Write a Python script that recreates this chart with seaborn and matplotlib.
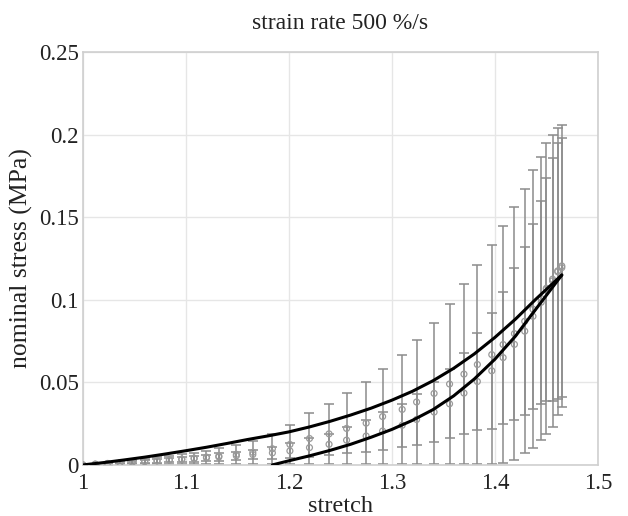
import numpy as np
import pandas as pd
import matplotlib
matplotlib.use("Agg")
import matplotlib.pyplot as plt
import seaborn as sns

# Measured stretch levels (shared by both specimen groups)
stretch = [1.000, 1.012, 1.024, 1.036, 1.048, 1.060, 1.072, 1.084, 1.096, 1.108,
           1.120, 1.132, 1.149, 1.165, 1.184, 1.201, 1.220, 1.239, 1.256, 1.275,
           1.291, 1.310, 1.324, 1.341, 1.356, 1.370, 1.383, 1.397, 1.408, 1.419,
           1.429, 1.437, 1.445, 1.450, 1.456, 1.461, 1.465]

# Group A: mean nominal stress and standard deviation (MPa)
mean_a = [0.0000, 0.0004, 0.0008, 0.0012, 0.0016, 0.0020, 0.0025, 0.0030, 0.0035, 0.0041,
          0.0047, 0.0054, 0.0064, 0.0076, 0.0098, 0.0124, 0.0160, 0.0188, 0.0221, 0.0253,
          0.0293, 0.0336, 0.0381, 0.0433, 0.0490, 0.0550, 0.0608, 0.0668, 0.0729, 0.0795,
          0.0870, 0.0943, 0.1008, 0.1070, 0.1115, 0.1170, 0.1205]
sd_a = [0.0000, 0.0003, 0.0006, 0.0009, 0.0012, 0.0016, 0.0020, 0.0024, 0.0029, 0.0034,
        0.0040, 0.0046, 0.0056, 0.0070, 0.0092, 0.0116, 0.0155, 0.0182, 0.0215, 0.0247,
        0.0287, 0.0330, 0.0376, 0.0427, 0.0485, 0.0545, 0.0602, 0.0662, 0.0719, 0.0765,
        0.0800, 0.0843, 0.0858, 0.0880, 0.0885, 0.0870, 0.0855]

# Group B: mean nominal stress and standard deviation (MPa)
mean_b = [0.0000, 0.0005, 0.0009, 0.0013, 0.0017, 0.0021, 0.0025, 0.0029, 0.0033, 0.0038,
          0.0043, 0.0048, 0.0055, 0.0063, 0.0073, 0.0085, 0.0105, 0.0125, 0.0150, 0.0175,
          0.0205, 0.0240, 0.0275, 0.0320, 0.0370, 0.0435, 0.0505, 0.0570, 0.0650, 0.0730,
          0.0810, 0.0900, 0.0985, 0.1065, 0.1125, 0.1175, 0.1195]
sd_b = [0.0000, 0.0002, 0.0004, 0.0006, 0.0008, 0.0010, 0.0012, 0.0014, 0.0016, 0.0018,
        0.0020, 0.0023, 0.0026, 0.0030, 0.0035, 0.0045, 0.0055, 0.0065, 0.0080, 0.0095,
        0.0115, 0.0130, 0.0155, 0.0180, 0.0210, 0.0245, 0.0295, 0.0350, 0.0400, 0.0460,
        0.0510, 0.0560, 0.0615, 0.0675, 0.0735, 0.0775, 0.0785]

# Model curves
model1_stretch = [1.00, 1.02, 1.04, 1.06, 1.08, 1.10, 1.12, 1.14, 1.16, 1.18, 1.20, 1.22,
                  1.24, 1.26, 1.28, 1.30, 1.32, 1.34, 1.36, 1.38, 1.40, 1.42, 1.44, 1.465]
model1_stress = [0.0000, 0.0014, 0.0030, 0.0047, 0.0066, 0.0086, 0.0107, 0.0130, 0.0154,
                 0.0176, 0.0200, 0.0230, 0.0264, 0.0302, 0.0344, 0.0392, 0.0446, 0.0510,
                 0.0585, 0.0672, 0.0772, 0.0883, 0.1005, 0.1150]
model2_stretch = [1.184, 1.20, 1.22, 1.24, 1.26, 1.28, 1.30, 1.32, 1.34, 1.36, 1.38,
                  1.40, 1.42, 1.44, 1.465]
model2_stress = [0.0000, 0.0025, 0.0055, 0.0088, 0.0125, 0.0168, 0.0215, 0.0270, 0.0335,
                 0.0418, 0.0520, 0.0640, 0.0780, 0.0945, 0.1150]

x_ticks = [1.0, 1.1, 1.2, 1.3, 1.4, 1.5]
x_tick_labels = ["1", "1.1", "1.2", "1.3", "1.4", "1.5"]
y_ticks = [0.0, 0.05, 0.10, 0.15, 0.20, 0.25]
y_tick_labels = ["0", "0.05", "0.1", "0.15", "0.2", "0.25"]

sns.set_theme(style="whitegrid")
plt.rcParams["font.family"] = ["Liberation Serif", "DejaVu Serif"]

fig = plt.figure(figsize=(6.28, 5.16), dpi=100)
ax = fig.add_axes([0.132, 0.099, 0.820, 0.800])
ax.set_facecolor("white")

exp = pd.DataFrame({"stretch": stretch * 2,
                    "stress": mean_a + mean_b,
                    "sd": sd_a + sd_b,
                    "group": ["A"] * len(stretch) + ["B"] * len(stretch)})

bar_color = "#8c8c8c"
for grp, sub in exp.groupby("group"):
    ax.errorbar(sub["stretch"], sub["stress"], yerr=sub["sd"], fmt="none",
                ecolor=bar_color, elinewidth=1.1, capsize=3.5, capthick=1.1, zorder=2)

sns.scatterplot(data=exp, x="stretch", y="stress", ax=ax, marker="o", s=18,
                facecolor="none", edgecolor="#9a9a9a", linewidth=0.9, legend=False,
                zorder=3)

sns.lineplot(x=model1_stretch, y=model1_stress, ax=ax, color="black", linewidth=2.2,
             zorder=4)
sns.lineplot(x=model2_stretch, y=model2_stress, ax=ax, color="black", linewidth=2.2,
             zorder=4)

ax.set_xlim(1.0, 1.5)
ax.set_ylim(0.0, 0.25)
ax.set_xticks(x_ticks)
ax.set_xticklabels(x_tick_labels)
ax.set_yticks(y_ticks)
ax.set_yticklabels(y_tick_labels)
ax.tick_params(labelsize=16.5, colors="#222222", length=0)
ax.tick_params(axis="x", pad=6)
ax.tick_params(axis="y", pad=3)
ax.grid(True, color="#e6e6e6", linewidth=1.0)
for side in ["left", "right", "top", "bottom"]:
    ax.spines[side].set_visible(True)
    ax.spines[side].set_color("#cfcfcf")
    ax.spines[side].set_linewidth(1.2)

ax.set_xlabel("stretch", fontsize=17.5, color="#222222", labelpad=1)
ax.set_ylabel("nominal stress (MPa)", fontsize=18.5, color="#222222", labelpad=4)
ax.set_title("strain rate 500 %/s", fontsize=17, color="#222222", pad=17)

fig.savefig("out.png", dpi=100, facecolor="white")
